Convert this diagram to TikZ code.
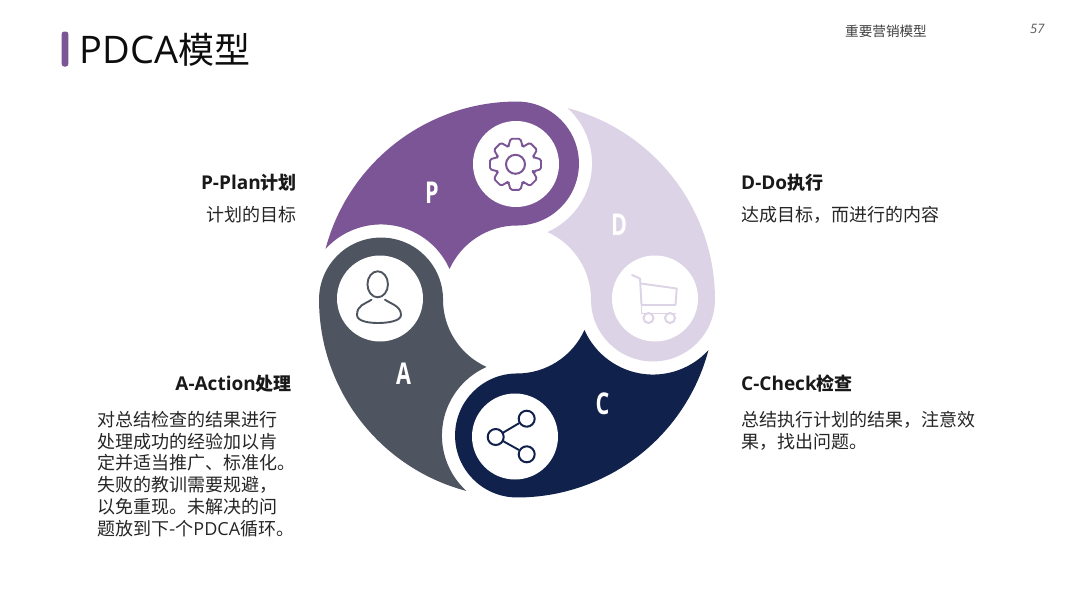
\documentclass[tikz,border=0pt]{standalone}
\usepackage{fontspec}
\usetikzlibrary{shapes.geometric}
\setmainfont{Noto Sans CJK SC}
\newfontfamily\letterfont{Open Sans}
\definecolor{planpurple}{HTML}{7B5596}
\definecolor{dolilac}{HTML}{DDD3E6}
\definecolor{checknavy}{HTML}{10214B}
\definecolor{actgrey}{HTML}{4F5560}
\newcommand{\petalletter}[1]{\scalebox{.72}[1]{\letterfont\bfseries #1}}
\newcommand{\headlatin}[1]{{\letterfont\fontsize{19}{22}\selectfont #1}}
\tikzset{
  letter/.style={text=#1,inner sep=0pt,font=\fontsize{30}{30}\selectfont},
  hole/.style={circle,fill=white,inner sep=0pt,minimum size=86pt},
  head/.style={inner sep=0pt,font=\fontsize{18}{22}\selectfont\bfseries,text=black!90},
  body/.style={inner sep=0pt,align=left,font=\fontsize{18}{21.8}\selectfont,text=black!85},
  ring/.style={circle,draw=#1,line width=2pt,inner sep=0pt,minimum size=16pt},
  icon/.style={draw=#1,line width=1.9pt,line join=round,line cap=round}
}

\begin{document}
\begin{tikzpicture}[x=1pt,y=1pt]
	\useasboundingbox (0,0) rectangle (1080,-608);
	\fill[white] (0,0) rectangle (1080,-608);

	% title and page head
	\fill[planpurple,rounded corners=2.5pt] (61.7,-31.5) rectangle (68.3,-66.5);
	\node[anchor=base west,inner sep=0pt,font=\fontsize{36}{36}\selectfont,text=black!95] (title) at (79.5,-63) {{\letterfont\fontsize{38}{38}\selectfont PDCA}模型};
	\node[anchor=base west,inner sep=0pt,font=\fontsize{13.6}{14}\selectfont,text=black!75] (chapter) at (845,-36) {重要营销模型};
	\node[anchor=base west,inner sep=0pt,font=\letterfont\itshape\fontsize{13}{14}\selectfont,text=black!65] (pagenum) at (1030,-33) {57};

	% four petals
	\foreach \ang/\col in {0/planpurple,-90/dolilac,-180/checknavy,-270/actgrey}{
		\fill[\col,shift={(517,-299.5)},rotate=\ang] (90:74)
			arc[start angle=90,end angle=155.7,radius=74]
			arc[start angle=23.9,end angle=137.7,radius=75]
			arc[start angle=165.2,end angle=90,radius=198]
			arc[start angle=90,end angle=-90,radius=62] -- cycle;
	}

	% white holes
	\node[hole] (holeP) at (516,-164) {};
	\node[hole] (holeD) at (655,-298.5) {};
	\node[hole] (holeC) at (515,-436.5) {};
	\node[hole] (holeA) at (380,-298.5) {};

	% letters
	\node[letter=white] (letP) at (432,-193) {\petalletter{P}};
	\node[letter=white] (letD) at (619,-225) {\petalletter{D}};
	\node[letter=white] (letC) at (602.5,-404) {\petalletter{C}};
	\node[letter=white] (letA) at (403.5,-374) {\petalletter{A}};

	% gear
	\begin{scope}[shift={(515.5,-164.3)}]
		\draw[icon=planpurple,rounded corners=1.5pt] (-21:20)
			\foreach \a in {0,45,...,315}{ -- (\a-21:19.5) -- (\a-11:26) -- (\a+11:26) -- (\a+21:19.5) } -- cycle;
		\node[ring=planpurple,minimum size=19pt] (gearhub) at (0,0) {};
	\end{scope}

	% cart
	\draw[icon=dolilac] (632,-275) -- (640,-278.5) -- (641.5,-305) -- (675.5,-305) -- (676.7,-288.5) -- (640.7,-283.5);
	\draw[icon=dolilac] (641.5,-305) -- (641.5,-313.5) -- (675.5,-313.5);
	\node[ring=dolilac,minimum size=10pt,fill=white] (wheelL) at (648.5,-318) {};
	\node[ring=dolilac,minimum size=10pt,fill=white] (wheelR) at (670,-318) {};

	% person
	\node[ellipse,draw=actgrey,line width=1.9pt,inner sep=0pt,minimum width=20.5pt,minimum height=26pt] (headA) at (377.7,-284.3) {};
	\draw[icon=actgrey] (371.5,-299.7) .. controls (365,-304) and (357,-305) .. (357,-315)
		.. controls (357,-321) and (368,-323) .. (378,-323)
		.. controls (388,-323) and (401,-321) .. (401,-315)
		.. controls (401,-306) and (391,-304) .. (385,-299.7);

	% share
	\node[ring=checknavy] (shareL) at (495.7,-437) {};
	\node[ring=checknavy] (shareU) at (526.7,-418.7) {};
	\node[ring=checknavy] (shareD) at (526.7,-454.3) {};
	\draw[icon=checknavy] (shareL) -- (shareU);
	\draw[icon=checknavy] (shareL) -- (shareD);

	% texts
	\node[head,anchor=east] (headP) at (297,-183) {\headlatin{P-Plan}计划};
	\node[body,anchor=east] (bodyP) at (297,-215) {计划的目标};
	\node[head,anchor=west] (headD) at (741,-183) {\headlatin{D-Do}执行};
	\node[body,anchor=west] (bodyD) at (741,-215) {达成目标，而进行的内容};
	\node[head,anchor=west] (headC) at (741,-384) {\headlatin{C-Check}检查};
	\node[body,anchor=west] (bodyC) at (741,-431) {总结执行计划的结果，注意效\\果，找出问题。};
	\node[head,anchor=east] (headAct) at (292,-384) {\headlatin{A-Action}处理};
	\node[body,anchor=west] (bodyA) at (97,-474) {对总结检查的结果进行\\处理成功的经验加以肯\\定并适当推广、标准化。\\失败的教训需要规避，\\以免重现。未解决的问\\题放到下-个{\letterfont PDCA}循环。};
\end{tikzpicture}
\end{document}
